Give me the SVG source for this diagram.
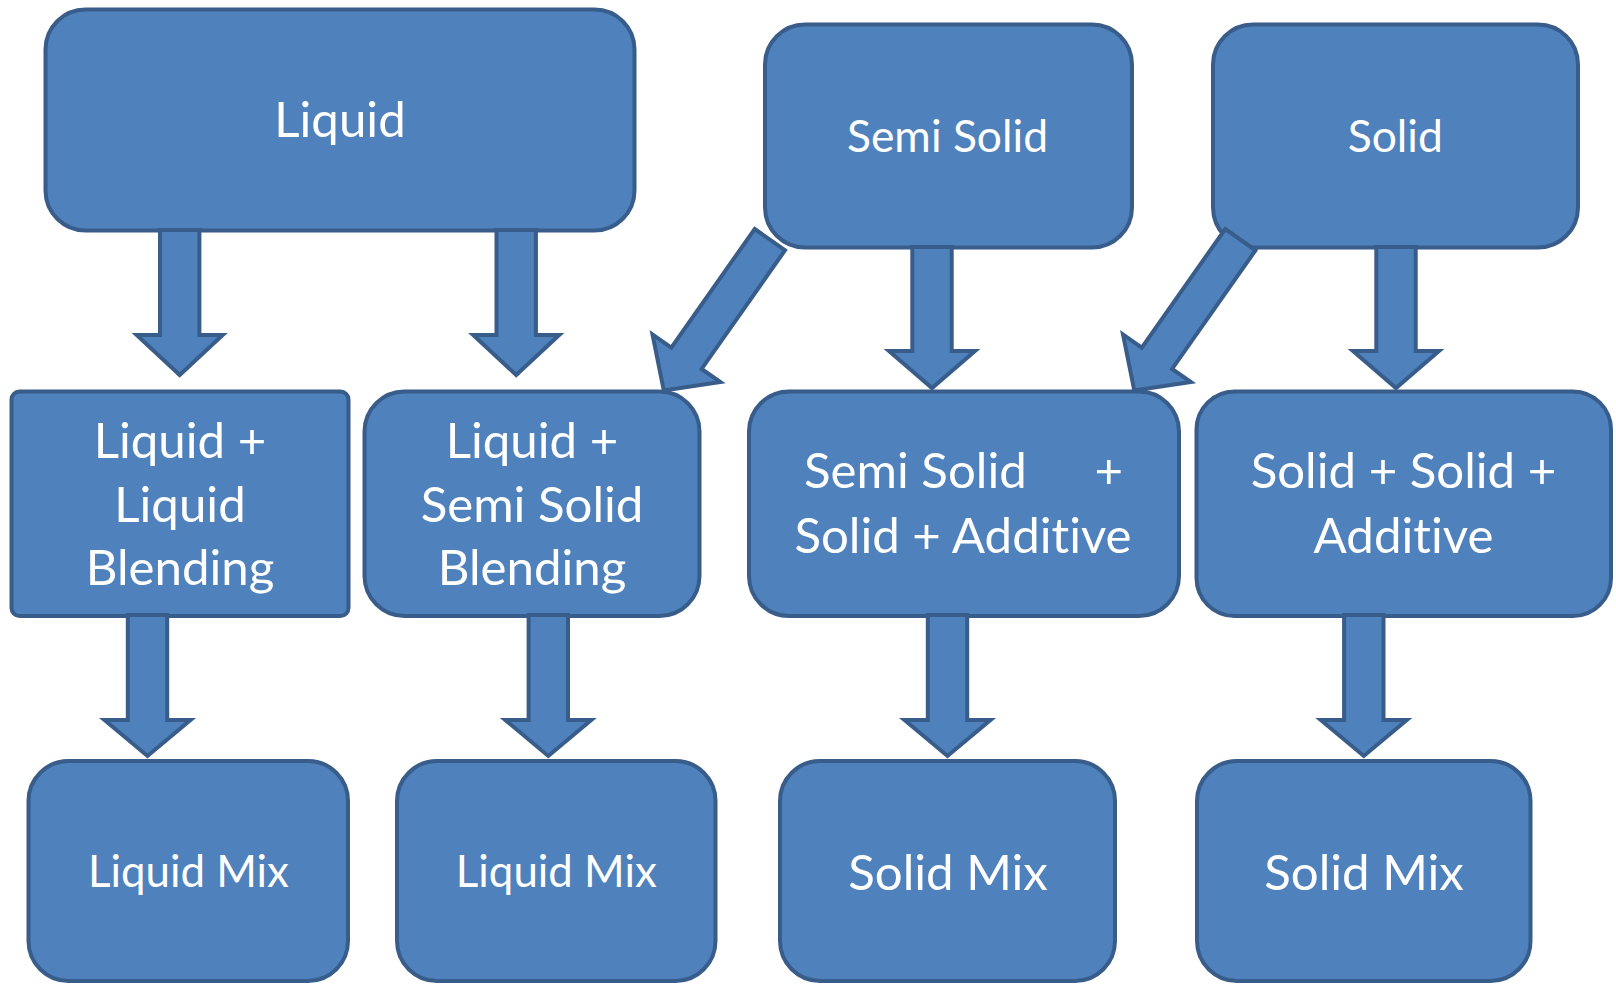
<svg xmlns="http://www.w3.org/2000/svg" width="1616" height="984" viewBox="0 0 1616 984">
  <style>
    .box { fill: #4f81bd; stroke: #385d8a; stroke-width: 4; }
    .arrow { fill: #4f81bd; stroke: #385d8a; stroke-width: 4; stroke-linejoin: miter; stroke-miterlimit: 10; }
    .lbl { font-family: Lato, "Open Sans", "Liberation Sans", sans-serif; fill: #ffffff; text-anchor: middle; font-variant-ligatures: none; font-feature-settings: "liga" 0, "dlig" 0; }
    .big { font-size: 49.2px; }
    .mid { font-size: 44.4px; }
    .small { font-size: 43.8px; }
    .start { text-anchor: start; }
    .end { text-anchor: end; }
  </style>
  <rect width="1616" height="984" fill="#ffffff"/>

  <!-- process nodes -->
  <g id="liquid">
    <rect class="box" x="45.5" y="9.5" width="589" height="221" rx="40" ry="40"/>
    <text class="lbl big" x="340" y="137.3">Liquid</text>
  </g>
  <g id="semi-solid">
    <rect class="box" x="765" y="24.5" width="367" height="223" rx="40" ry="40"/>
    <text class="lbl mid" x="947.5" y="151.7">Semi Solid</text>
  </g>
  <g id="solid">
    <rect class="box" x="1213" y="24.5" width="365" height="223" rx="40" ry="40"/>
    <text class="lbl mid" x="1395.3" y="151.7">Solid</text>
  </g>
  <g id="liquid-liquid-blending">
    <rect class="box" x="11.5" y="391.5" width="337" height="224.5" rx="8" ry="8"/>
    <text class="lbl big" x="180" y="458.3">Liquid +</text>
    <text class="lbl big" x="180" y="521.7">Liquid</text>
    <text class="lbl big" x="180" y="585">Blending</text>
  </g>
  <g id="liquid-semisolid-blending">
    <rect class="box" x="364.5" y="391.5" width="335" height="224.5" rx="40" ry="40"/>
    <text class="lbl big" x="532" y="458.3">Liquid +</text>
    <text class="lbl big" x="532" y="521.7">Semi Solid</text>
    <text class="lbl big" x="532" y="585">Blending</text>
  </g>
  <g id="semisolid-solid-additive">
    <rect class="box" x="749" y="391.5" width="430" height="224.5" rx="40" ry="40"/>
    <text class="lbl big" y="488.3"><tspan class="start" x="804">Semi Solid</tspan><tspan class="end" x="1123">+</tspan></text>
    <text class="lbl big" x="963" y="552.7">Solid + Additive</text>
  </g>
  <g id="solid-solid-additive">
    <rect class="box" x="1196.5" y="391.5" width="414.5" height="224.5" rx="38" ry="38"/>
    <text class="lbl big" x="1403.5" y="488.3">Solid + Solid +</text>
    <text class="lbl big" x="1403.5" y="552.7">Additive</text>
  </g>
  <g id="liquid-mix-1">
    <rect class="box" x="28.5" y="761" width="319.5" height="220" rx="40" ry="40"/>
    <text class="lbl small" x="188.5" y="886.7">Liquid Mix</text>
  </g>
  <g id="liquid-mix-2">
    <rect class="box" x="397" y="761" width="318.5" height="220" rx="40" ry="40"/>
    <text class="lbl small" x="556.3" y="886.7">Liquid Mix</text>
  </g>
  <g id="solid-mix-1">
    <rect class="box" x="780" y="761" width="335" height="220" rx="40" ry="40"/>
    <text class="lbl big" x="948" y="890">Solid Mix</text>
  </g>
  <g id="solid-mix-2">
    <rect class="box" x="1197" y="761" width="333.5" height="220" rx="40" ry="40"/>
    <text class="lbl big" x="1364" y="890">Solid Mix</text>
  </g>

  <!-- block arrows between the stages -->
  <g id="connectors">
    <polygon class="arrow" points="160,230 199.4,230 199.4,335 222.7,335 179.7,375 136.7,335 160,335"/>
    <polygon class="arrow" points="496.5,230 535.9,230 535.9,335 559.2,335 516.2,375 473.2,335 496.5,335"/>
    <polygon class="arrow" points="912.3,247 951.7,247 951.7,351 975,351 932,388 889,351 912.3,351"/>
    <polygon class="arrow" points="1376.3,247 1415.7,247 1415.7,351 1439,351 1396,388 1353,351 1376.3,351"/>
    <polygon class="arrow" points="754.7,229 785,250.3 701.6,368.9 720.4,382.1 663.8,390.6 652.5,334.4 671.3,347.6"/>
    <polygon class="arrow" points="1225.2,229 1255.5,250.3 1172.1,368.9 1190.9,382.1 1134.3,390.6 1123,334.4 1141.8,347.6"/>
    <polygon class="arrow" points="127.8,615 167.2,615 167.2,720 190.5,720 147.5,756 104.5,720 127.8,720"/>
    <polygon class="arrow" points="528.6,615 568,615 568,720 591.3,720 548.3,756 505.3,720 528.6,720"/>
    <polygon class="arrow" points="927.8,615 967.2,615 967.2,720 990.5,720 947.5,756 904.5,720 927.8,720"/>
    <polygon class="arrow" points="1344.1,615 1383.5,615 1383.5,720 1406.8,720 1363.8,756 1320.8,720 1344.1,720"/>
  </g>
</svg>
